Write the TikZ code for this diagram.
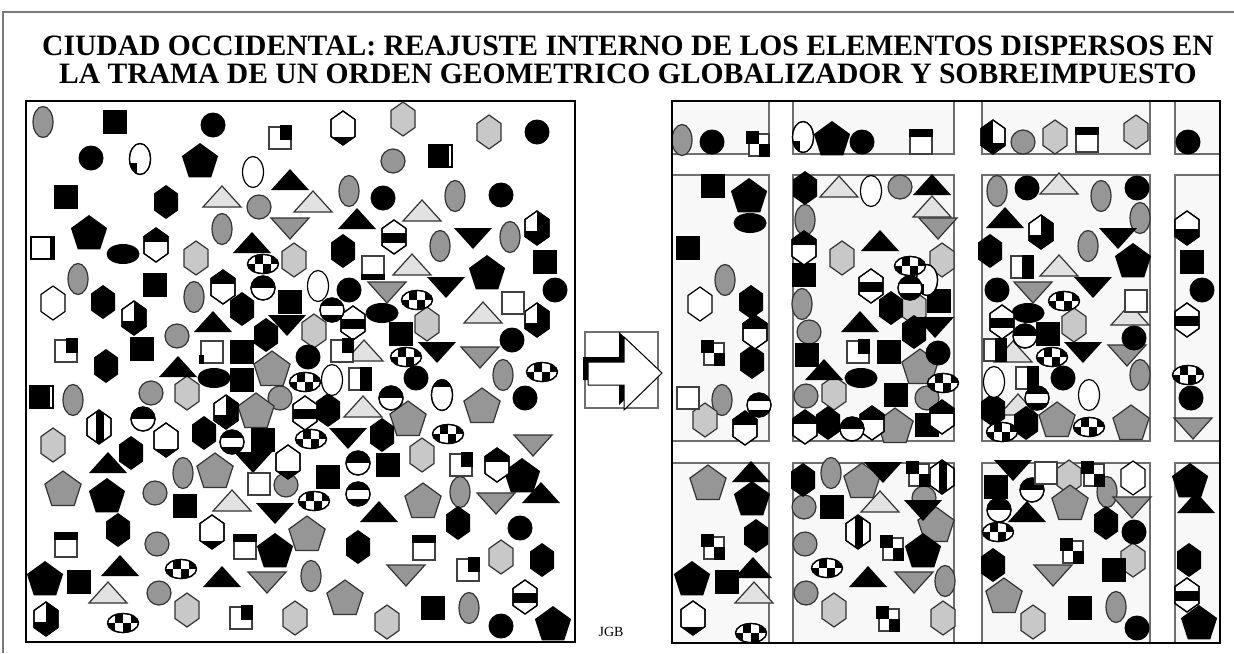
\documentclass[tikz,border=0pt]{standalone}
\usepackage{fontspec}
\setmainfont{Liberation Serif}
\definecolor{gmid}{HTML}{969696}
\definecolor{glight}{HTML}{C8C8C8}
\definecolor{gtri}{HTML}{E2E2E2}
\definecolor{edge}{HTML}{333333}
\definecolor{blockfill}{HTML}{F8F8F8}
\definecolor{blockedge}{HTML}{6E6E6E}
\definecolor{framegray}{HTML}{7A7A7A}
\def\hexp{(0,-17)--(12,-8.5)--(12,8.5)--(0,17)--(-12,8.5)--(-12,-8.5)--cycle}
\def\penp{(0,-17)--(18.1,-3.9)--(11.2,17.4)--(-11.2,17.4)--(-18.1,-3.9)--cycle}
\def\tup{(-19,10)--(19,10)--(0,-11)--cycle}
\def\tdn{(-19,-10)--(19,-10)--(0,11)--cycle}
\newcommand\putall[2]{\foreach \a/\b in {#2}{\pic at (\a,\b) {#1};}}
\tikzset{
 every pic/.style={line width=0.6pt},
 gshade/.style={fill=gmid,draw=edge},
 lshade/.style={fill=glight,draw=edge},
 tshade/.style={fill=gtri,draw=edge},
 wshade/.style={fill=white,draw=black},
 titletext/.style={anchor=base,inner sep=0,text height=10pt,text depth=0pt,font=\bfseries\fontsize{14.8}{14.8}\selectfont},
 bsq/.pic={\fill (-12,-12) rectangle (12,12);},
 bci/.pic={\fill (0,0) circle [radius=12.5];},
 gci/.pic={\filldraw[gshade] (0,0) circle [radius=12];},
 bpe/.pic={\fill \penp;},
 gpe/.pic={\filldraw[gshade] \penp;},
 bhx/.pic={\fill \hexp;},
 lhx/.pic={\filldraw[lshade] \hexp;},
 whx/.pic={\filldraw[wshade] \hexp;},
 whxb/.pic={\filldraw[wshade] \hexp; \begin{scope}\clip \hexp; \fill (-12,9) rectangle (12,17);\end{scope}\draw \hexp;},
 whxt/.pic={\filldraw[wshade] \hexp; \begin{scope}\clip \hexp; \fill (-12,-17) rectangle (12,-3);\end{scope}\draw \hexp;},
 whxh/.pic={\filldraw[wshade] \hexp; \begin{scope}\clip \hexp; \fill (-12,1) rectangle (12,17);\end{scope}\draw \hexp;},
 whxn/.pic={\filldraw[wshade] \hexp; \begin{scope}\clip \hexp; \fill (-12,-4) rectangle (12,6);\end{scope}\draw \hexp;},
 whxr/.pic={\filldraw[wshade] \hexp; \begin{scope}\clip \hexp; \fill (0,-17) rectangle (12,17); \fill (-12,3) rectangle (12,17);\end{scope}\draw \hexp;},
 whxl/.pic={\filldraw[wshade] \hexp; \begin{scope}\clip \hexp; \fill (-12,-17) rectangle (0,17); \fill (0,6) rectangle (12,17);\end{scope}\draw \hexp;},
 whxv/.pic={\filldraw[wshade] \hexp; \begin{scope}\clip \hexp; \fill (-3,-17) rectangle (5,17);\end{scope}\draw \hexp;},
 ltr/.pic={\filldraw[tshade] \tup;},
 btr/.pic={\fill \tup;},
 gtd/.pic={\filldraw[gshade] \tdn;},
 btd/.pic={\fill \tdn;},
 gell/.pic={\filldraw[gshade] (0,0) ellipse [x radius=10,y radius=15.5];},
 well/.pic={\filldraw[wshade] (0,0) ellipse [x radius=10.5,y radius=15.5];},
 wellq/.pic={\filldraw[wshade] (0,0) ellipse [x radius=10.5,y radius=15.5]; \begin{scope}\clip (0,0) ellipse [x radius=10.5,y radius=15.5]; \fill (-11,4) rectangle (-3,16);\end{scope}\draw (0,0) ellipse [x radius=10.5,y radius=15.5];},
 wellt/.pic={\filldraw[wshade] (0,0) ellipse [x radius=10.5,y radius=15.5]; \begin{scope}\clip (0,0) ellipse [x radius=10.5,y radius=15.5]; \fill (-11,-16) rectangle (11,-8);\end{scope}\draw (0,0) ellipse [x radius=10.5,y radius=15.5];},
 bell/.pic={\fill (0,0) ellipse [x radius=16.5,y radius=10];},
 cell/.pic={\filldraw[wshade] (0,0) ellipse [x radius=15.5,y radius=9.5]; \begin{scope}\clip (0,0) ellipse [x radius=15.5,y radius=9.5]; \fill (-8,-10) rectangle (0,0); \fill (0,0) rectangle (8,10); \fill (-16,0) rectangle (-8,10); \fill (8,-10) rectangle (16,0);\end{scope}\draw (0,0) ellipse [x radius=15.5,y radius=9.5];},
 sch/.pic={\filldraw[wshade] (0,0) circle [radius=12]; \begin{scope}\clip (0,0) circle [radius=12]; \fill (-13,-13) rectangle (13,0);\end{scope}\draw (0,0) circle [radius=12];},
 scs/.pic={\filldraw[wshade] (0,0) circle [radius=12]; \begin{scope}\clip (0,0) circle [radius=12]; \fill (-13,-13) rectangle (13,-4); \fill (-13,5) rectangle (13,13);\end{scope}\draw (0,0) circle [radius=12];},
 wsq/.pic={\filldraw[wshade,draw=black!75] (-11,-11) rectangle (11,11);},
 wsqt/.pic={\filldraw[wshade,draw=black!75] (-11,-8) rectangle (11,12); \fill (-12,-13) rectangle (12,-5);},
 wsqb/.pic={\filldraw[wshade,draw=black!75] (-11,-12) rectangle (11,8); \fill (-12,6) rectangle (12,12);},
 wsqr/.pic={\filldraw[wshade] (-11,-11) rectangle (11,11); \fill (8,-12) rectangle (13,12);},
 bsqw/.pic={\fill (-12,-12) rectangle (8,12); \filldraw[wshade] (8,-11) rectangle (12,11);},
 wsqtr/.pic={\filldraw[wshade,draw=black!75] (-11,-11) rectangle (11,11); \fill (0,-13) rectangle (12,2);},
 wsqbl/.pic={\filldraw[wshade,draw=black!75] (-11,-11) rectangle (11,11); \fill (-13,3) rectangle (-8,12);},
 wsqq/.pic={\filldraw[wshade,draw=black!75] (-9,-9) rectangle (11,13); \fill (-12,-12) rectangle (1,1); \fill (1,1) rectangle (12,14);},
 wsqh/.pic={\filldraw[wshade,draw=black!75] (-11,-11) rectangle (11,11); \fill (0,-12) rectangle (12,12);},
 blockbox/.style={fill=blockfill,draw=blockedge,line width=0.6pt},
}
\begin{document}
\begin{tikzpicture}[x=0.5pt,y=-0.5pt]
\useasboundingbox (0,0) rectangle (1234,653);
\draw[framegray,line width=0.8pt] (3,653)--(3,12)--(1234,12);
\node[titletext] (t1) at (628,55) {CIUDAD OCCIDENTAL: REAJUSTE INTERNO DE LOS ELEMENTOS DISPERSOS EN};
\node[titletext] (t2) at (628,83) {LA TRAMA DE UN ORDEN GEOMETRICO GLOBALIZADOR Y SOBREIMPUESTO};
% ---------- left box ----------
\draw[line width=1.1pt] (26,101) rectangle (575,642);
\begin{scope}
\clip (26,101) rectangle (575,642);
\putall{gell}{43/122,222/229,78/279,194/297,73/400,349/191,455/196,440/246,510/237,503/375,183/473,460/492,311/576,469/608}
\putall{gci}{259/207,393/161,177/336,151/393,280/398,155/493,286/485,157/544,159/593}
\putall{lhx}{196/258,294/260,403/119,489/132,187/393,53/445,427/324,314/331,422/455,501/557,187/610,295/618,387/622}
\putall{gpe}{272/368,256/410,215/470,63/488,423/500,307/533,345/597,482/405,408/418}
\putall{ltr}{222/197,313/202,422/211,412/265,483/313,364/351,363/407,232/501,108/593}
\putall{gtd}{290/228,387/292,480/357,533/445,267/582,496/503,406/575}
\putall{bsq}{115/122,66/197,155/285,290/302,142/349,242/352,242/380,401/334,263/440,185/506,79/582,328/477,388/465,433/608,545/262}
\putall{bci}{213/125,91/158,537/132,383/198,501/195,349/290,555/290,512/340,308/357,416/378,525/398,520/528,501/626}
\putall{bpe}{200/160,89/232,487/272,107/495,275/550,45/578,522/475,553/623}
\putall{bhx}{166/202,343/251,103/302,242/309,106/366,266/335,204/433,131/453,118/530,328/410,382/435,458/523,358/547,542/560}
\putall{btr}{290/180,252/243,357/219,213/322,178/367,108/463,120/566,222/577,379/512,541/493}
\putall{btd}{473/238,287/325,446/287,437/352,348/438,253/462,275/513}
\putall{bell}{123/254,214/378,382/313}
\putall{well}{253/172,318/286,332/380}
\putall{wellq}{140/159}
\putall{wellt}{442/395}
\putall{cell}{263/264,417/300,406/357,542/372,448/434,311/439,181/569,123/623,314/501,305/382}
\putall{whx}{53/303}
\putall{whxb}{343/128,166/440,212/532,288/462}
\putall{whxt}{156/245,223/287,497/465}
\putall{whxn}{394/237,305/413,353/323,525/597}
\putall{whxr}{537/228,134/318,537/320,226/412,46/619}
\putall{whxv}{99/427}
\putall{sch}{143/419,391/398,358/463,263/288}
\putall{scs}{232/442,332/310,358/494}
\putall{wsq}{513/303,259/484}
\putall{wsqt}{66/545,245/547,424/548}
\putall{wsqb}{373/268}
\putall{wsqr}{42/248}
\putall{bsqw}{440/156,41/397}
\putall{wsqtr}{280/138,66/351,342/351,241/618,468/570,461/465}
\putall{wsqbl}{212/352}
\putall{wsqh}{360/379}
\end{scope}
% ---------- arrow ----------
\draw[blockedge,line width=0.6pt] (585,332) rectangle (658,408);
\fill (583,357)--(619,357)--(619,332)--(657,368)--(619,405)--(619,380)--(583,380)--cycle;
\filldraw[fill=white,draw=black,line width=0.5pt] (588,362)--(624,362)--(624,337)--(662,373)--(624,410)--(624,385)--(588,385)--cycle;
\node[anchor=base,inner sep=0,font=\fontsize{7}{7}\selectfont] (jgb) at (611,636) {JGB};
% ---------- right box ----------
\begin{scope}
\clip (672,101) rectangle (1220,643);
\foreach \xa/\xb in {672/769,793/954,982/1150,1175/1222}{
  \foreach \ya/\yb in {99/154,175/441,463/645}{
    \path[blockbox] (\xa,\ya) rectangle (\xb,\yb);
  }
}
\putall{gell}{682/140,725/280,722/400,805/220,802/304,997/191,1101/196,1140/218,1088/246,1140/375,831/473,945/581,1107/492,1116/607}
\putall{gci}{1023/142,900/187,809/332,806/396,927/398,804/507,924/498,805/544,806/593}
\putall{lhx}{1055/137,1136/132,705/420,842/258,942/260,914/308,834/393,1074/325,834/610,943/618,1069/477,1133/560,1033/622}
\putall{gpe}{920/366,895/425,1057/419,1131/422,708/482,862/480,936/524,1070/502,1004/595}
\putall{ltr}{839/187,932/207,1059/184,1059/266,1130/315,1013/352,1018/405,754/593,880/502}
\putall{gtd}{938/228,1033/292,1127/355,1193/428,914/582,1132/507,1053/575}
\putall{bsq}{713/186,688/248,804/275,939/301,807/355,889/352,896/395,927/425,1048/334,1192/262,727/582,832/507,996/487,1114/570,1080/608}
\putall{bci}{712/142,862/142,1188/142,938/353,1027/188,1137/188,997/290,1134/338,1063/378,1202/290,1191/398,1134/532,1137/628}
\putall{bpe}{832/138,749/195,1133/260,752/498,692/578,923/550,1190/480,1199/622}
\putall{bhx}{751/302,752/362,805/188,891/308,914/332,828/423,990/251,993/410,1026/423,756/536,803/480,1106/523,993/565,1189/560}
\putall{btr}{932/185,880/241,860/322,824/370,1005/218,751/472,753/568,868/577,1027/512,1196/503}
\putall{btd}{935/327,1118/238,1093/287,1083/352,883/472,923/510,1013/470}
\putall{bell}{750/223,861/378,1028/313}
\putall{well}{871/191,994/382,1089/395}
\putall{wellq}{803/137,927/280}
\putall{cell}{910/266,943/383,1064/301,1052/357,1002/432,1089/427,1188/375,751/633,827/568,998/532}
\putall{whx}{700/304,1133/478}
\putall{whxb}{693/618}
\putall{whxt}{755/332,745/428,804/248,805/427,872/423,942/417}
\putall{whxh}{1187/228}
\putall{whxn}{871/286,1002/322,1187/320,1187/595}
\putall{whxr}{1041/232}
\putall{whxl}{993/137}
\putall{whxv}{942/477,858/532}
\putall{sch}{852/429,1025/336,1032/490,999/510}
\putall{scs}{759/405,910/288,1037/398}
\putall{wsq}{688/398,1136/301,1046/473}
\putall{wsqt}{921/142,1087/140}
\putall{wsqq}{758/143,713/352,713/546,918/473,892/547,888/618,1093/473,1072/550}
\putall{wsqtr}{858/352}
\putall{wsqh}{1022/267,995/350,1027/378}
\end{scope}
\draw[line width=1.1pt] (672,101) rectangle (1220,643);
\end{tikzpicture}
\end{document}
